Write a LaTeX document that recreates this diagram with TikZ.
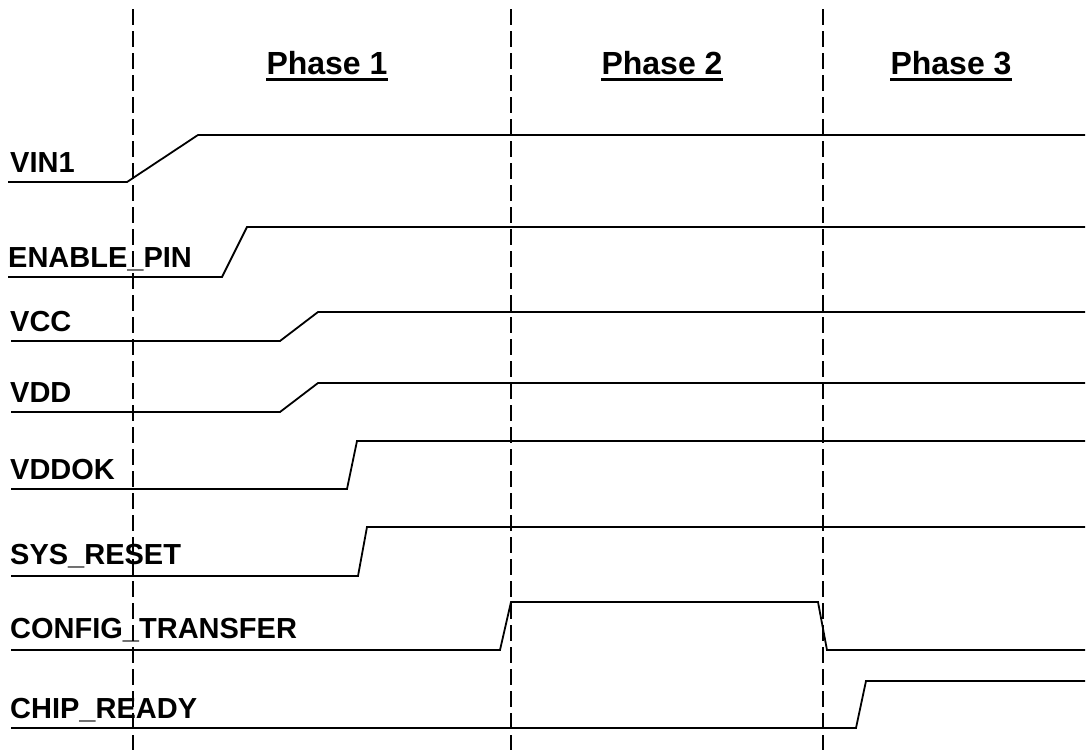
\documentclass[tikz,border=0pt]{standalone}
\usepackage{fontspec}
\setmainfont{Liberation Sans}
\usepackage{tikz}
\usetikzlibrary{positioning}

\begin{document}
\begin{tikzpicture}
  [
    x=1pt, y=-1pt,
    Sig/.style={anchor=base west, inner sep=0pt, font=\fontsize{29}{34}\selectfont\bfseries},
    Phase/.style={anchor=base, inner sep=0pt, font=\fontsize{32}{38}\selectfont\bfseries},
    Wave/.style={draw=black, line width=1.8pt, line join=miter},
    Split/.style={draw=black, line width=1.5pt, dash pattern=on 16pt off 6pt}
  ]
  \useasboundingbox (0,0) rectangle (1088,750);

  % Phase borders
  \path [Split] (133,9) -- (133,750);
  \path [Split] (511,9) -- (511,750);
  \path [Split] (823,9) -- (823,750);

  % Phase titles
  \node[Phase] (p1) at (327,74) {Phase 1};
  \node[Phase] (p2) at (662,74) {Phase 2};
  \node[Phase] (p3) at (951,74) {Phase 3};
  \foreach \p in {p1,p2,p3}
    \path [draw, line width=3pt] ([yshift=-5pt]\p.base west) -- ([yshift=-5pt]\p.base east);

  % Signal names
  \node[Sig] (vin) at (10,172) {VIN1};
  \node[Sig] (en) at (8,267) {ENABLE\_PIN};
  \node[Sig] (vcc) at (10,331) {VCC};
  \node[Sig] (vdd) at (10,402) {VDD};
  \node[Sig] (vddok) at (10,479) {VDDOK};
  \node[Sig] (rst) at (10,564) {SYS\_RESET};
  \node[Sig] (cfg) at (10,638) {CONFIG\_TRANSFER};
  \node[Sig] (rdy) at (10,718) {CHIP\_READY};

  % Waveforms
  \path [Wave] (8,182) -- (127,182) -- (198,135) -- (1085,135);
  \path [Wave] (8,277) -- (222,277) -- (247,227) -- (1085,227);
  \path [Wave] (11,341) -- (280,341) -- (318,312) -- (1085,312);
  \path [Wave] (11,412) -- (280,412) -- (318,383) -- (1085,383);
  \path [Wave] (11,489) -- (347,489) -- (357,441) -- (1085,441);
  \path [Wave] (11,576) -- (358,576) -- (367,527) -- (1085,527);
  \path [Wave] (11,650) -- (500,650) -- (511,602) -- (818,602) -- (827,650) -- (1085,650);
  \path [Wave] (11,728) -- (856,728) -- (866,681) -- (1085,681);

\end{tikzpicture}
\end{document}
